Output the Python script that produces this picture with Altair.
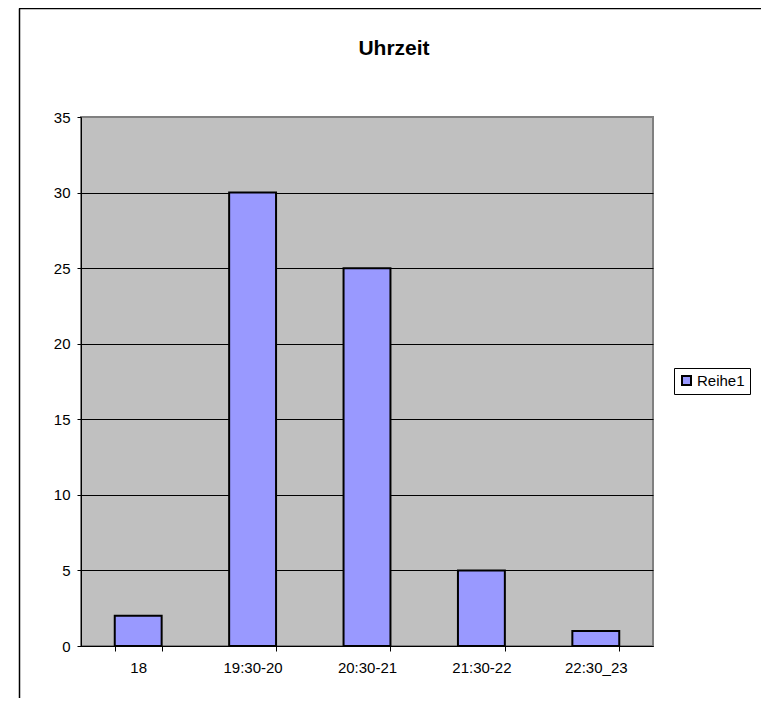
import altair as alt
import pandas as pd

categories = ["18", "19:30-20", "20:30-21", "21:30-22", "22:30_23"]
values = [2, 30, 25, 5, 1]
series = ["Reihe1"] * len(categories)
y_ticks = [0, 5, 10, 15, 20, 25, 30, 35]

df = pd.DataFrame({"Uhrzeit": categories, "Wert": values, "Serie": series})

FONT = "Liberation Sans"
W, H = 572, 529
PL, PT = 73, 109
TOTAL_W, TOTAL_H = 753, 690

bars = alt.Chart(df).mark_bar(stroke="black", strokeWidth=2).encode(
    x=alt.X(
        "Uhrzeit:N",
        sort=categories,
        scale=alt.Scale(paddingInner=0.59, paddingOuter=0.295),
        axis=alt.Axis(
            title=None, labelAngle=0, tickBand="extent", tickSize=5,
            tickColor="black", domainColor="black", labelColor="black",
            labelFont=FONT, labelFontSize=15, labelPadding=9, grid=False,
        ),
    ),
    y=alt.Y(
        "Wert:Q",
        scale=alt.Scale(domain=[0, 35], nice=False),
        axis=alt.Axis(
            title=None, values=y_ticks, tickSize=4, tickColor="black",
            domainColor="black", labelColor="black", labelFont=FONT,
            labelFontSize=15, labelPadding=7, grid=True,
            gridColor={"condition": {"test": "datum.value >= 35", "value": "#808080"}, "value": "black"},
            gridWidth=1,
        ),
    ),
    color=alt.Color(
        "Serie:N",
        scale=alt.Scale(range=["#9999FF"]),
        legend=alt.Legend(
            title=None, orient="none", legendX=593, legendY=251,
            symbolType="square", symbolSize=81, symbolStrokeColor="black",
            symbolStrokeWidth=2, labelFont=FONT, labelFontSize=15,
            labelColor="black", strokeColor="black", padding=5,
            labelOffset=3, labelExpr="datum.label + '   '",
        ),
    ),
)

title = alt.Chart(pd.DataFrame({"t": ["Uhrzeit"]})).mark_text(
    font=FONT, fontSize=21, fontWeight="bold", color="black", baseline="middle", align="center"
).encode(text="t:N", x=alt.value(313), y=alt.value(-68))

frame_df = pd.DataFrame({"k": [0]})
left_border = alt.Chart(frame_df).mark_rule(color="black", strokeWidth=1.5).encode(
    x=alt.value(-61.5), y=alt.value(-108.5), y2=alt.value(600)
)
top_border = alt.Chart(frame_df).mark_rule(color="black", strokeWidth=1.5).encode(
    x=alt.value(-62), x2=alt.value(700), y=alt.value(-108.5)
)

chart = alt.layer(bars, title, left_border, top_border).properties(
    width=W, height=H,
    autosize=alt.AutoSizeParams(type="none"),
    padding={"left": PL, "top": PT, "right": TOTAL_W - PL - W, "bottom": TOTAL_H - PT - H},
    background="white",
).configure_view(
    fill="#C0C0C0", stroke="#808080", strokeWidth=2
)

chart.save("out.html", embed_options={"renderer": "svg", "actions": False})
